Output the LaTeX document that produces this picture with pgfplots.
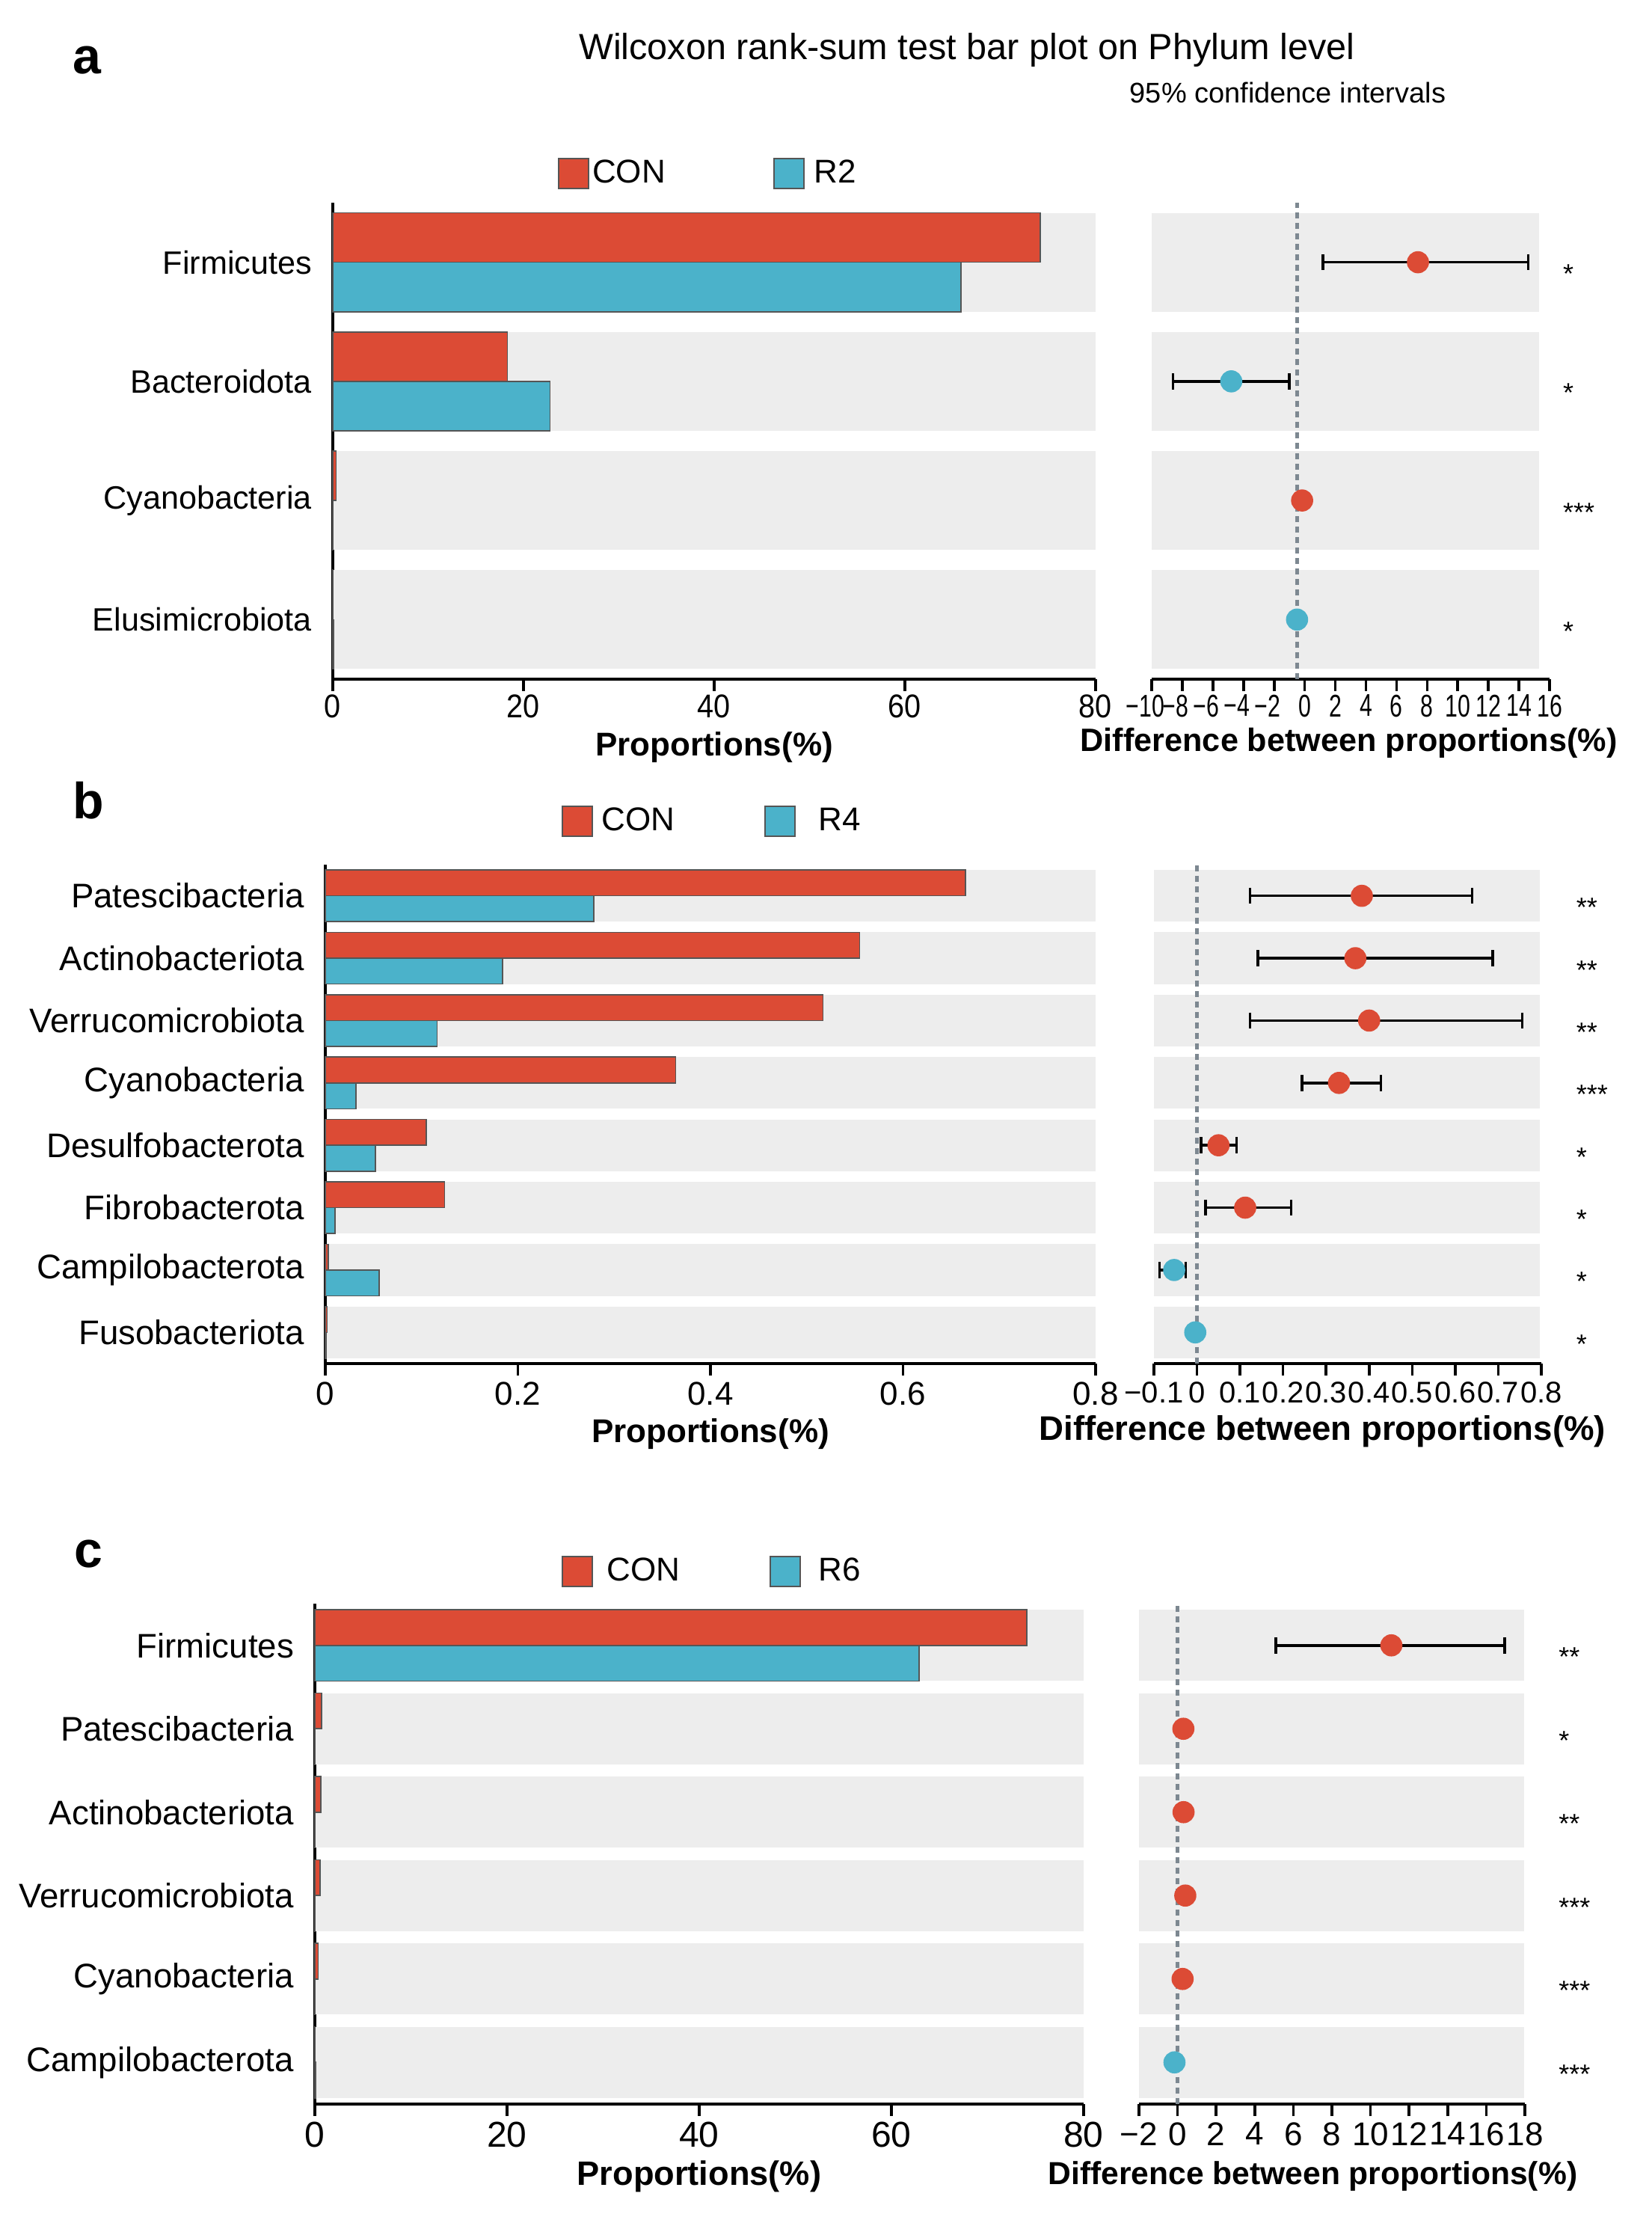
\documentclass[border=0pt]{standalone}
\usepackage{fontspec}
\setmainfont{Liberation Sans}
\usepackage{pgfplots}
\usepackage{pgfplotstable}
\pgfplotsset{compat=1.18}

\definecolor{conred}{HTML}{DC4B35}
\definecolor{rblue}{HTML}{4BB2CA}
\definecolor{bandgray}{HTML}{EDEDED}
\definecolor{bargray}{HTML}{555555}
\definecolor{dashgray}{HTML}{7D8891}

\newcommand\fs[1]{\fontsize{#1pt}{#1pt}\selectfont}

\pgfplotsset{
  panel/.style={
    scale only axis, clip=false, enlargelimits=false,
    axis x line=bottom, tick align=outside,
    major tick length=4pt,
    x axis line style={line width=0.9pt, -},
    xtick style={line width=0.9pt, black},
    ytick style={draw=none},
    ymin=0.5,
    /pgf/number format/assume math mode=true,
    xlabel style={at={(axis description cs:0.5,0)}, anchor=center, font=\bfseries\fs{11}},
  },
  leftpanel/.style={panel, axis y line=left, y axis line style={line width=0.8pt, -}, xmin=0,
    yticklabel style={font=\fs{11}, xshift=-1.5pt},
    legend columns=2,
    legend image code/.code={\draw[##1, line width=0.6pt] (0pt,-5pt) rectangle (10pt,5pt);},
    legend style={draw=none, fill=none, inner sep=0pt, anchor=west, font=\fs{11}, nodes={inner sep=1pt}},
  },
  rightpanel/.style={panel, axis y line=none, ytick=\empty},
  band/.style={fill=bandgray, draw=none, forget plot},
  conbar/.style={xbar, fill=conred, draw=bargray, line width=0.4pt},
  rbar/.style={xbar, fill=rblue, draw=bargray, line width=0.4pt},
  ci/.style={black, line width=0.9pt, mark=|, mark size=2.7pt, mark options={line width=0.9pt},
    unbounded coords=jump, forget plot},
  dot/.style={only marks, mark=*, mark size=3.5pt, forget plot, #1},
  zero/.style={dashgray, line width=1.3pt, dash pattern=on 2pt off 1.5pt, forget plot},
  stars/.style={only marks, mark=none, forget plot, nodes near coords, point meta=explicit symbolic,
    nodes near coords style={anchor=base west, inner sep=0pt, font=\fs{9}, yshift=-7pt, black}},
}

% ---------- panel a ----------
\pgfplotstableread{
y con r
4 74.2 65.9
3 18.3 22.8
2 0.35 0.05
1 0.03 0.12
}\barsA
\pgfplotstableread{
x y
1.2 4
14.6 4
nan nan
-8.6 3
-1.0 3
}\ciA
\pgfplotstableread{
y d
4 7.4
2 -0.17
}\redA
\pgfplotstableread{
y d
3 -4.8
1 -0.5
}\blueA
\pgfplotstableread{
x y s
16.85 4 *
16.85 3 *
16.85 2 ***
16.85 1 *
}\starsA
\pgfplotstableread{
x y
0 -0.415
80 -0.415
80 0.415
0 0.415
}\bandAL
\pgfplotstableread{
x y
-10 -0.415
15.3 -0.415
15.3 0.415
-10 0.415
}\bandAR

% ---------- panel b ----------
\pgfplotstableread{
y con r
8 0.665 0.279
7 0.555 0.184
6 0.517 0.116
5 0.364 0.032
4 0.105 0.052
3 0.124 0.010
2 0.003 0.056
1 0.002 0.001
}\barsB
\pgfplotstableread{
x y
0.123 8
0.639 8
nan nan
0.142 7
0.687 7
nan nan
0.123 6
0.756 6
nan nan
0.244 5
0.427 5
nan nan
0.009 4
0.092 4
nan nan
0.020 3
0.219 3
nan nan
-0.087 2
-0.026 2
}\ciB
\pgfplotstableread{
y d
8 0.383
7 0.368
6 0.400
5 0.330
4 0.050
3 0.112
}\redB
\pgfplotstableread{
y d
2 -0.053
1 -0.004
}\blueB
\pgfplotstableread{
x y s
0.88 8 **
0.88 7 **
0.88 6 **
0.88 5 ***
0.88 4 *
0.88 3 *
0.88 2 *
0.88 1 *
}\starsB
\pgfplotstableread{
x y
0 -0.415
0.8 -0.415
0.8 0.415
0 0.415
}\bandBL
\pgfplotstableread{
x y
-0.1 -0.415
0.797 -0.415
0.797 0.415
-0.1 0.415
}\bandBR

% ---------- panel c ----------
\pgfplotstableread{
y con r
6 74.1 62.9
5 0.68 0.05
4 0.60 0.04
3 0.55 0.03
2 0.34 0.02
1 0.02 0.06
}\barsC
\pgfplotstableread{
x y
5.10 6
16.96 6
}\ciC
\pgfplotstableread{
y d
6 11.08
5 0.30
4 0.31
3 0.40
2 0.26
}\redC
\pgfplotstableread{
y d
1 -0.16
}\blueC
\pgfplotstableread{
x y s
19.73 6 **
19.73 5 *
19.73 4 **
19.73 3 ***
19.73 2 ***
19.73 1 ***
}\starsC
\pgfplotstableread{
x y
0 -0.425
80 -0.425
80 0.425
0 0.425
}\bandCL
\pgfplotstableread{
x y
-2 -0.425
17.95 -0.425
17.95 0.425
-2 0.425
}\bandCR

\begin{document}
\begin{tikzpicture}
\path[use as bounding box] (0,0) rectangle (552pt,742pt);

\node[font=\bfseries\fs{17}] at (29.1pt,721.75pt) {a};
\node[font=\bfseries\fs{17}] at (29.6pt,474.5pt) {b};
\node[font=\bfseries\fs{17}] at (29.5pt,222.5pt) {c};
\node[font=\fs{12.15}] at (323.2pt,725.25pt) {Wilcoxon rank-sum test bar plot on Phylum level};
\node[font=\fs{9.5}] at (430.5pt,711pt) {95\% confidence intervals};

% ===== a left =====
\begin{axis}[leftpanel, at={(111.25pt,515pt)}, anchor=south west,
  width=255pt, height=159.25pt, xmax=80, ymax=4.5,
  xtick={0,20,40,60,80}, xticklabel style={font=\fs{11}, xscale=0.9, yshift=2.3pt},
  ytick={1,2,3,4}, yticklabels={Elusimicrobiota,Cyanobacteria,Bacteroidota,Firmicutes},
  yticklabel style={font=\fs{10.8}},
  xlabel={Proportions(\%)}, xlabel style={yshift=-22.75pt},
  legend style={at={(axis description cs:0.294,1.061)}, /tikz/every even column/.append style={column sep=35pt}},
]
\pgfplotsinvokeforeach{1,...,4}{\addplot[band] table[x=x, y expr=\thisrow{y}+#1] {\bandAL};}
\addplot[conbar, bar width=0.415, bar shift=0.2075] table[x=con, y=y] {\barsA};
\addlegendentry{CON}
\addplot[rbar, bar width=0.415, bar shift=-0.2075] table[x=r, y=y] {\barsA};
\addlegendentry{\hspace{2pt}R2}
\end{axis}

% ===== a right =====
\begin{axis}[rightpanel, at={(385pt,515pt)}, anchor=south west,
  width=133pt, height=159.25pt, xmin=-10, xmax=16, ymax=4.5,
  xtick={-10,-8,...,16},
  xticklabels={\llap{−}10,\llap{−}8,\llap{−}6,\llap{−}4,\llap{−}2,0,2,4,6,8,10,12,14,16},
  xticklabel style={font=\fs{10.5}, xscale=0.72, yshift=2.3pt},
  xlabel={Difference between proportions(\%)},
  xlabel style={font=\bfseries\fs{10.8}, yshift=-21.25pt, xshift=-0.6pt},
]
\pgfplotsinvokeforeach{1,...,4}{\addplot[band] table[x=x, y expr=\thisrow{y}+#1] {\bandAR};}
\addplot[zero] coordinates {(-0.5,0.5) (-0.5,4.5)};
\addplot[ci] table[x=x, y=y] {\ciA};
\addplot[dot=conred] table[x=d, y=y] {\redA};
\addplot[dot=rblue] table[x=d, y=y] {\blueA};
\addplot[stars] table[x=x, y=y, meta=s] {\starsA};
\end{axis}

% ===== b left =====
\begin{axis}[leftpanel, at={(108.75pt,286.25pt)}, anchor=south west,
  width=257.5pt, height=166.75pt, xmax=0.8, ymax=8.5,
  xtick={0,0.2,0.4,0.6,0.8}, xticklabel style={font=\fs{11}, yshift=1.3pt},
  ytick={1,...,8},
  yticklabels={Fusobacteriota,Campilobacterota,Fibrobacterota,Desulfobacterota,Cyanobacteria,Verrucomicrobiota,Actinobacteriota,Patescibacteria},
  yticklabel style={font=\fs{11.4}},
  xlabel={Proportions(\%)}, xlabel style={yshift=-23.6pt},
  legend style={at={(axis description cs:0.306,1.087)}, /tikz/every even column/.append style={column sep=28.8pt}},
]
\pgfplotsinvokeforeach{1,...,8}{\addplot[band] table[x=x, y expr=\thisrow{y}+#1] {\bandBL};}
\addplot[conbar, bar width=0.415, bar shift=0.2075] table[x=con, y=y] {\barsB};
\addlegendentry{\hspace{1.8pt}CON}
\addplot[rbar, bar width=0.415, bar shift=-0.2075] table[x=r, y=y] {\barsB};
\addlegendentry{\hspace{6.6pt}R4}
\end{axis}

% ===== b right =====
\begin{axis}[rightpanel, at={(385.75pt,286.25pt)}, anchor=south west,
  width=129.5pt, height=166.75pt, xmin=-0.1, xmax=0.8, ymax=8.5,
  xtick={-0.1,0,0.1,0.2,0.3,0.4,0.5,0.6,0.7,0.8},
  xticklabels={−0.1,0,0.1,0.2,0.3,0.4,0.5,0.6,0.7,0.8},
  xticklabel style={font=\fs{10}, yshift=1.3pt},
  xlabel={Difference between proportions(\%)},
  xlabel style={font=\bfseries\fs{11.4}, yshift=-22.75pt, xshift=-8.4pt},
]
\pgfplotsinvokeforeach{1,...,8}{\addplot[band] table[x=x, y expr=\thisrow{y}+#1] {\bandBR};}
\addplot[zero] coordinates {(0,0.5) (0,8.5)};
\addplot[ci] table[x=x, y=y] {\ciB};
\addplot[dot=conred] table[x=d, y=y] {\redB};
\addplot[dot=rblue] table[x=d, y=y] {\blueB};
\addplot[stars] table[x=x, y=y, meta=s] {\starsB};
\end{axis}

% ===== c left =====
\begin{axis}[leftpanel, at={(105.25pt,38.75pt)}, anchor=south west,
  width=257pt, height=167.25pt, xmax=80, ymax=6.5,
  xtick={0,20,40,60,80}, xticklabel style={font=\fs{12}, yshift=1.45pt},
  ytick={1,...,6},
  yticklabels={Campilobacterota,Cyanobacteria,Verrucomicrobiota,Actinobacteriota,Patescibacteria,Firmicutes},
  yticklabel style={font=\fs{11.4}},
  xlabel={Proportions(\%)}, xlabel style={font=\bfseries\fs{11.3}, yshift=-24.15pt},
  legend style={at={(axis description cs:0.3203,1.064)}, /tikz/every even column/.append style={column sep=28.9pt}},
]
\pgfplotsinvokeforeach{1,...,6}{\addplot[band] table[x=x, y expr=\thisrow{y}+#1] {\bandCL};}
\addplot[conbar, bar width=0.43, bar shift=0.215] table[x=con, y=y] {\barsC};
\addlegendentry{\hspace{3.45pt}CON}
\addplot[rbar, bar width=0.43, bar shift=-0.215] table[x=r, y=y] {\barsC};
\addlegendentry{\hspace{4.9pt}R6}
\end{axis}

% ===== c right =====
\begin{axis}[rightpanel, at={(380.75pt,38.75pt)}, anchor=south west,
  width=129pt, height=167.25pt, xmin=-2, xmax=18, ymax=6.5,
  xtick={-2,0,...,18},
  xticklabels={−2,0,2,4,6,8,10,12,14,16,18},
  xticklabel style={font=\fs{11}, yshift=1.45pt},
  xlabel={Difference between proportions(\%)},
  xlabel style={font=\bfseries\fs{10.65}, yshift=-24.15pt, xshift=-6.4pt},
]
\pgfplotsinvokeforeach{1,...,6}{\addplot[band] table[x=x, y expr=\thisrow{y}+#1] {\bandCR};}
\addplot[zero] coordinates {(0,0.5) (0,6.5)};
\addplot[ci] table[x=x, y=y] {\ciC};
\addplot[dot=conred] table[x=d, y=y] {\redC};
\addplot[dot=rblue] table[x=d, y=y] {\blueC};
\addplot[stars] table[x=x, y=y, meta=s] {\starsC};
\end{axis}
\end{tikzpicture}
\end{document}
